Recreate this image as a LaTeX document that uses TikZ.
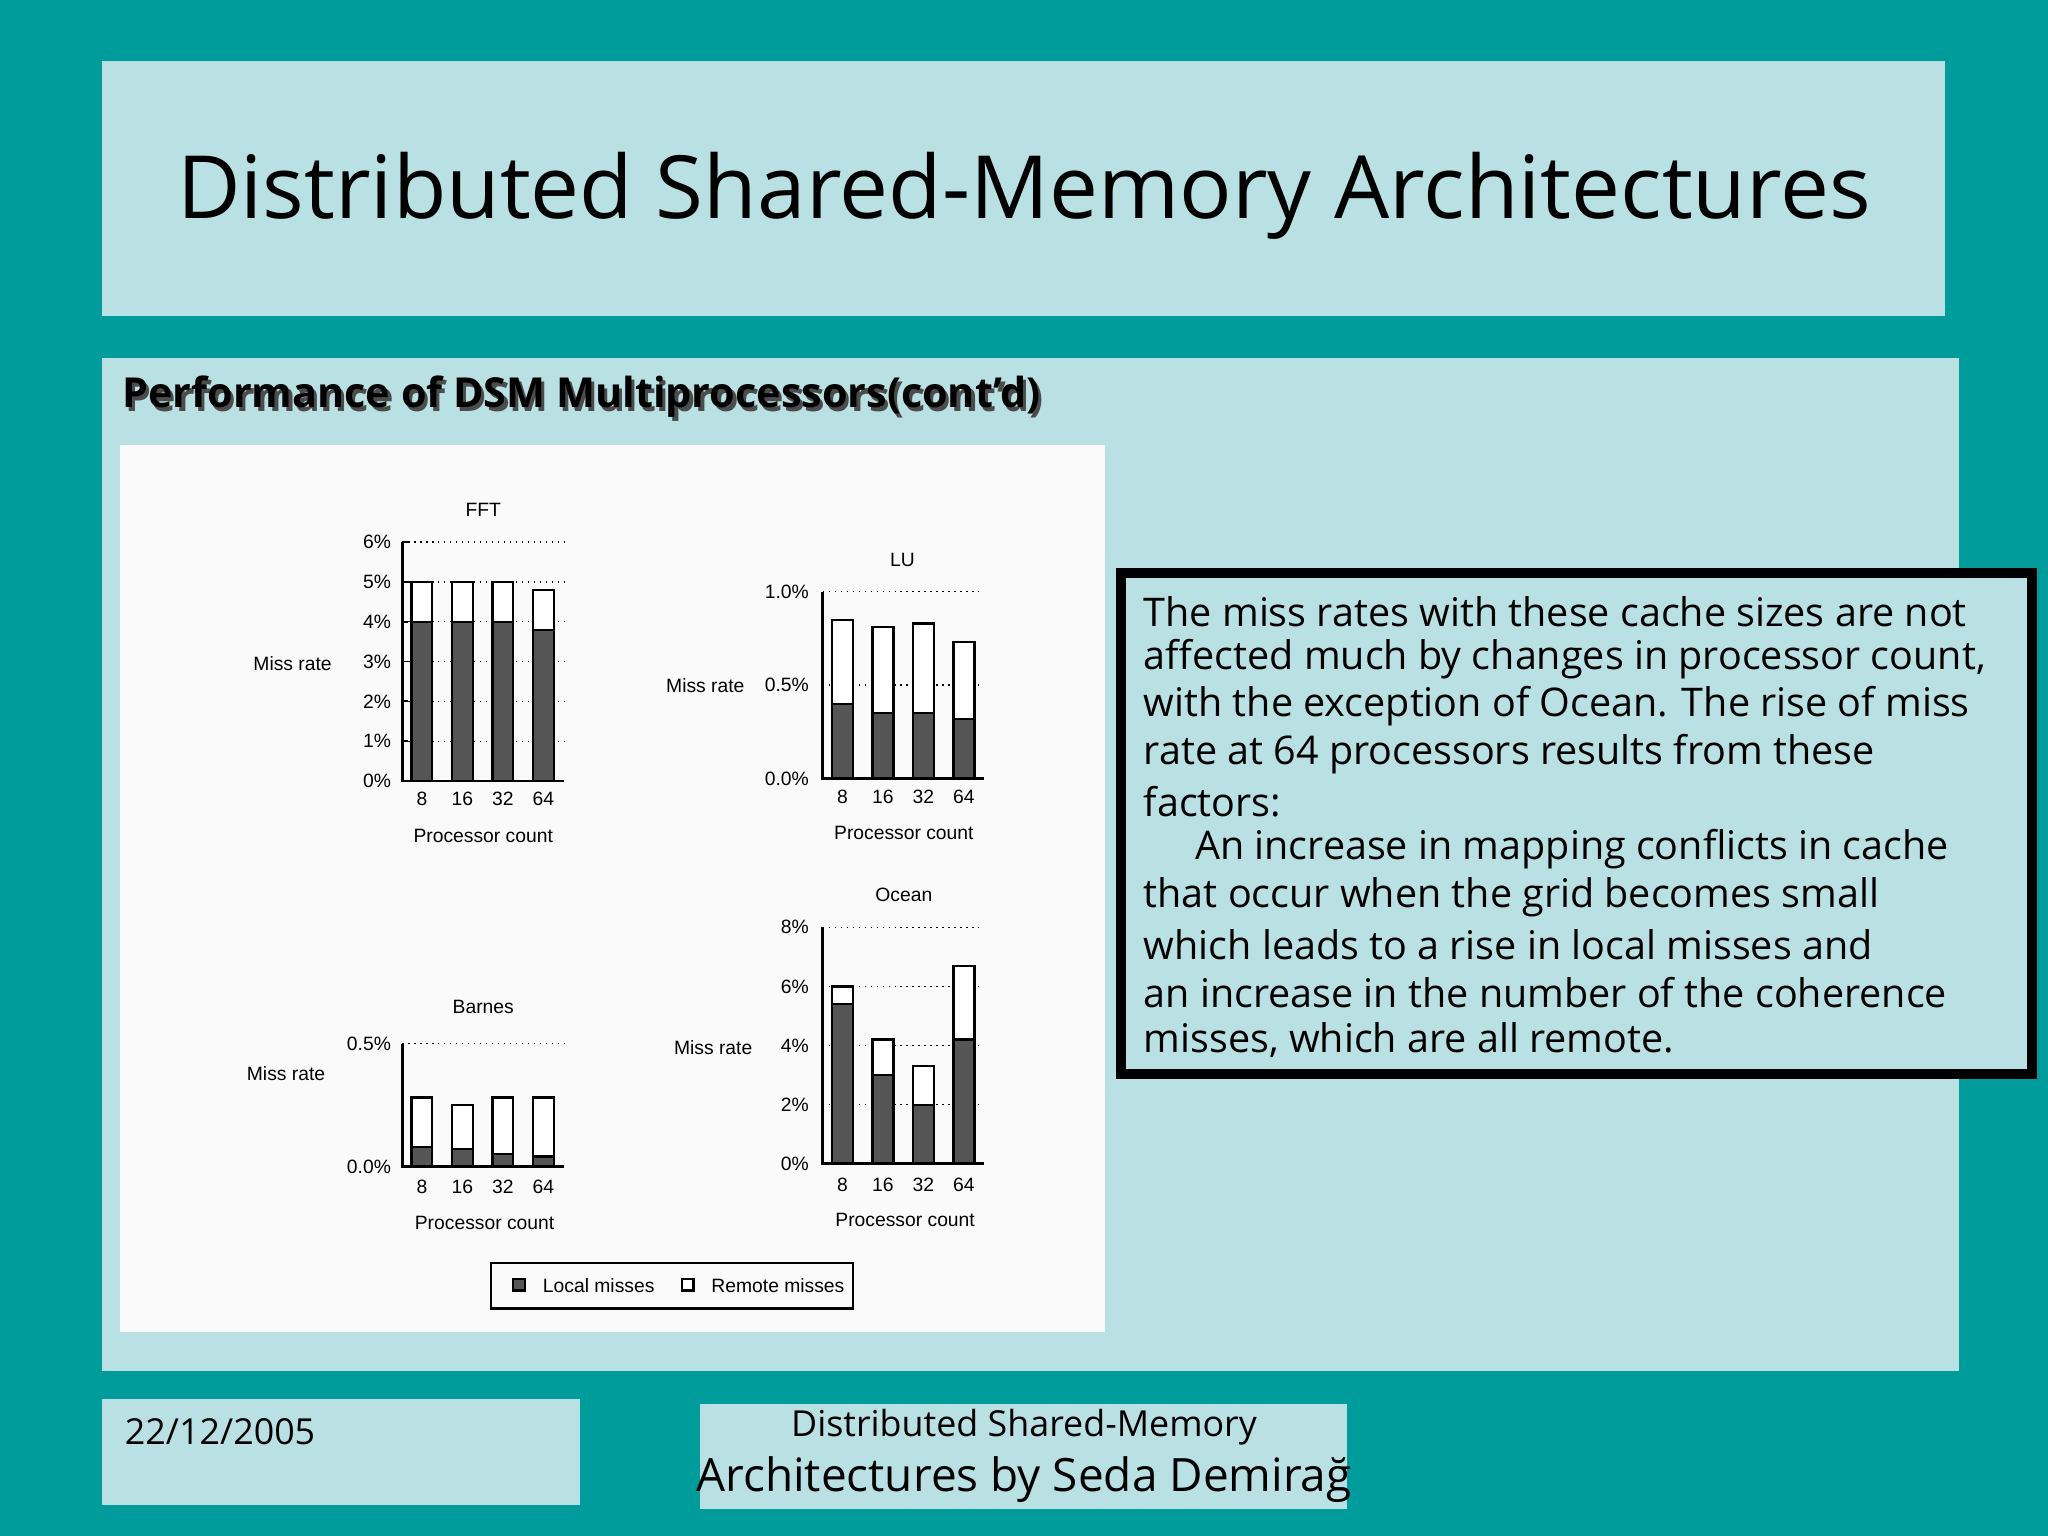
\documentclass[tikz,border=0pt]{standalone}
\usepackage{fontspec}
\setmainfont{Open Sans}
\newfontfamily\chartfont{Liberation Sans}
\begin{document}
\begin{tikzpicture}[x=0.01cm,y=-0.01cm,
  panel/.style={fill=boxc,draw=none},
  lbl/.style={font=\chartfont\fontsize{4.2pt}{5pt}\selectfont,inner sep=0pt},
  ylbl/.style={lbl,anchor=east},
  grid/.style={densely dotted,line width=0.3pt},
  loc/.style={fill=bardark,draw=black,line width=0.5pt},
  rem/.style={fill=white,draw=black,line width=0.5pt},
  body/.style={anchor=west,inner sep=0pt,font=\fontsize{8.6pt}{10pt}\selectfont}]
\definecolor{teal0}{HTML}{009B9B}
\definecolor{boxc}{HTML}{B9E1E3}
\definecolor{bardark}{HTML}{555555}
\useasboundingbox (0,0) rectangle (1568,1176);
\fill[teal0] (0,0) rectangle (1568,1176);
\fill[panel] (78,47) rectangle (1489,242);
\node (title) at (784,150) {\fontsize{19pt}{22pt}\selectfont Distributed Shared-Memory Architectures};
\fill[panel] (78,274) rectangle (1500,1050);
\node[anchor=west,inner sep=0pt,gray!60!black] at (95.5,306.5) {\bfseries\fontsize{9pt}{11pt}\selectfont Performance of DSM Multiprocessors(cont'd)};
\node[anchor=west,inner sep=0pt] (head) at (93,304) {\bfseries\fontsize{9pt}{11pt}\selectfont Performance of DSM Multiprocessors(cont'd)};
\fill[white!96!gray] (92,341) rectangle (846,1020);
% FFT
\foreach \p/\y in {6/415,5/445.5,4/476,3/506.5,2/537,1/567.5,0/598}{\node[ylbl] at (300,\y) {\p\%};}
\foreach \y in {415,445.5,476,506.5,537,567.5}{\draw[grid] (308,\y) -- (432,\y);}
\foreach \c/\t/\l in {323/5/4,354/5/4,385/5/4,416/4.8/3.8}{
  \draw[rem] (\c-8,598-30.5*\t) rectangle (\c+8,598);
  \draw[loc] (\c-8,598-30.5*\l) rectangle (\c+8,598);}
\draw[line width=0.6pt] (308,415) -- (308,598) -- (432,598);
\foreach \y in {415,445.5,476,506.5,537,567.5,598}{\draw (308,\y) -- (312,\y);}
\foreach \c/\n in {323/8,354/16,385/32,416/64}{\node[lbl] at (\c,612) {\n};}
\node[lbl] at (370,640) {Processor count};
\node[lbl] at (224,508) {Miss rate};
\node[lbl] at (370,390) {FFT};
% LU
\foreach \p/\y in {1.0/453,0.5/524.5,0.0/596}{\node[ylbl] at (620,\y) {\p\%};}
\foreach \y in {453,524.5}{\draw[grid] (630,\y) -- (753,\y);}
\foreach \c/\t/\l in {645/0.85/0.4,676/0.81/0.35,707/0.83/0.35,738/0.73/0.32}{
  \draw[rem] (\c-8,596-143*\t) rectangle (\c+8,596);
  \draw[loc] (\c-8,596-143*\l) rectangle (\c+8,596);}
\draw[line width=0.6pt] (630,453) -- (630,596) -- (753,596);
\foreach \c/\n in {645/8,676/16,707/32,738/64}{\node[lbl] at (\c,610) {\n};}
\node[lbl] at (692,638) {Processor count};
\node[lbl] at (540,525) {Miss rate};
\node[lbl] at (691,429) {LU};
% Barnes
\foreach \p/\y in {0.5/799,0.0/893}{\node[ylbl] at (300,\y) {\p\%};}
\draw[grid] (308,799) -- (432,799);
\foreach \c/\t/\l in {323/0.28/0.08,354/0.25/0.07,385/0.28/0.05,416/0.28/0.04}{
  \draw[rem] (\c-8,893-188*\t) rectangle (\c+8,893);
  \draw[loc] (\c-8,893-188*\l) rectangle (\c+8,893);}
\draw[line width=0.6pt] (308,799) -- (308,893) -- (432,893);
\foreach \c/\n in {323/8,354/16,385/32,416/64}{\node[lbl] at (\c,909) {\n};}
\node[lbl] at (371,936) {Processor count};
\node[lbl] at (219,822) {Miss rate};
\node[lbl] at (370,771) {Barnes};
% Ocean
\foreach \p/\y in {8/710,6/755.25,4/800.5,2/845.75,0/891}{\node[ylbl] at (620,\y) {\p\%};}
\foreach \y in {710,755.25,800.5,845.75}{\draw[grid] (630,\y) -- (753,\y);}
\foreach \c/\t/\l in {645/6/5.4,676/4.2/3,707/3.3/2,738/6.7/4.2}{
  \draw[rem] (\c-8,891-22.625*\t) rectangle (\c+8,891);
  \draw[loc] (\c-8,891-22.625*\l) rectangle (\c+8,891);}
\draw[line width=0.6pt] (630,710) -- (630,891) -- (753,891);
\foreach \c/\n in {645/8,676/16,707/32,738/64}{\node[lbl] at (\c,907) {\n};}
\node[lbl] at (693,934) {Processor count};
\node[lbl] at (546,802) {Miss rate};
\node[lbl] at (692,685) {Ocean};
% legend
\draw[line width=0.6pt] (376,967) rectangle (653,1002);
\draw[loc] (393,979) rectangle (402,988);
\node[lbl,anchor=west] at (415,984) {Local misses};
\draw[rem] (522,979) rectangle (531,988);
\node[lbl,anchor=west] at (544,984) {Remote misses};
% text box
\draw[panel,draw=black,line width=2.2pt] (858,439) rectangle (1556,822);
\foreach \t [count=\i from 0] in {The miss rates with these cache sizes are not,affected much by changes in processor count{,},with the exception of Ocean. The rise of miss,rate at 64 processors results from these,factors:,\hspace{1.3em}An increase in mapping conflicts in cache,that occur when the grid becomes small,which leads to a rise in local misses and,an increase in the number of the coherence,{misses, which are all remote.}}
  {\node[body] at (875,468+36.5*\i) {\t};}
% footers
\fill[panel] (78,1071) rectangle (444,1152);
\node[anchor=west,inner sep=0pt] (date) at (95,1096) {\fontsize{7.8pt}{9pt}\selectfont 22/12/2005};
\fill[panel] (536,1075) rectangle (1031,1155);
\node[align=center,inner sep=0pt] (foot) at (784,1115) {\fontsize{7.8pt}{8.9pt}\selectfont Distributed Shared-Memory\\ Architectures by Seda Demirağ};
\end{tikzpicture}
\end{document}
